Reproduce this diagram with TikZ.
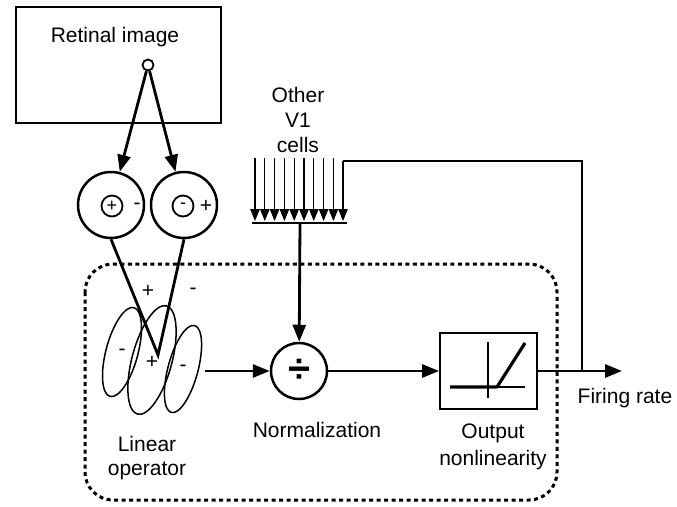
\documentclass[tikz,border=0pt]{standalone}
\usepackage{fontspec}
\setmainfont{Liberation Sans}
\usetikzlibrary{arrows.meta}
\begin{document}
\begin{tikzpicture}[x=1pt,y=-1pt,
  lbl/.style={font=\fontsize{21}{25}\selectfont, inner sep=0pt},
  big/.style={-{Triangle[length=17pt,width=13pt]}, line width=2.8pt},
  small/.style={-{Triangle[length=12pt,width=9.5pt]}, line width=1.1pt},
  ring/.style={circle, draw, line width=2.5pt, inner sep=0pt},
  ell/.style={line width=1.5pt},
  thin/.style={line width=1.8pt}
]
\useasboundingbox (0,0) rectangle (677,506);

% retinal image
\node[draw, line width=2.8pt, minimum width=205pt, minimum height=116pt, inner sep=0pt] (retbox) at (118.5,65) {};
\node[lbl, anchor=base] (rettxt) at (115,42) {Retinal image};
\node[circle, draw, line width=1.8pt, minimum size=11pt, inner sep=0pt] (spot) at (148,65) {};

% LGN-like cells
\node[ring, minimum size=66pt] (onL) at (111,205) {};
\node[ring, minimum size=66pt] (onR) at (184,205) {};
\node[ring, line width=1.8pt, minimum size=21pt, font=\fontsize{18}{18}\selectfont] (cL) at (112,206) {+};
\node[ring, line width=1.8pt, minimum size=21pt, font=\fontsize{18}{18}\selectfont] (cR) at (183,206) {-};
\node[lbl] (mL) at (137,206) {-};
\node[lbl] (pR) at (206,206) {+};

\draw[big] (spot) -- (onL);
\draw[big] (spot) -- (onR);

\coordinate (apex) at (158,355);
\draw[line width=2.8pt, line join=miter] (onL.south) -- (apex) -- (onR.south);

% linear operator ellipses
\draw[ell, rotate around={-15:(122,352)}] (122,352) ellipse [x radius=16, y radius=46];
\draw[ell, rotate around={-15:(152,360)}] (152,360) ellipse [x radius=20, y radius=56];
\draw[ell, rotate around={-15:(183,369)}] (183,369) ellipse [x radius=15, y radius=45];
\node[lbl] (e1) at (122,352) {-};
\node[lbl] (e2) at (152,362) {+};
\node[lbl] (e3) at (183,368) {-};
\node[lbl] (tp) at (148,291) {+};
\node[lbl] (tm) at (193,291) {-};

% normalization
\coordinate (linout) at (205,371);
\node[ring, minimum size=56pt, font=\fontsize{40}{40}\selectfont\bfseries] (norm) at (299,371) {÷};
\draw[big] (linout) -- (norm);

% output nonlinearity
\node[draw, line width=1.8pt, minimum width=97pt, minimum height=76pt, inner sep=0pt] (nl) at (488.5,371) {};
\draw[big] (norm) -- (nl);
\draw[thin] (488,342) -- (488,398);
\draw[thin] (450,387) -- (525,387);
\draw[line width=3.2pt, line join=round] (450,387) -- (497,387) -- (525,343);

\coordinate (fr) at (622,371);
\draw[big] (nl.east) -- (fr);
\node[lbl, anchor=base] (frtxt) at (625,403) {Firing rate};

% other V1 cells
\node[lbl, anchor=base, align=center] (other) at (298,152) {Other\\V1\\cells};
\foreach \i in {0,...,8} \draw[small] ({255+9.8*\i},158) -- ({255+9.8*\i},221);
\coordinate (fbstart) at (343,161);
\draw[small] (fbstart) -- (343,221);
\draw[thin] (252,223) -- (347,223);
\coordinate (barmid) at (300,223);
\draw[big] (barmid) -- (norm);
\coordinate (fbj) at (582,371);
\draw[thin] (fbstart) -| (fbj);

% dotted enclosure
\draw[line width=3pt, dash pattern=on 4pt off 3.5pt, rounded corners=28pt] (85,264) rectangle (557,500);

% labels
\node[lbl, anchor=base, align=center, font=\fontsize{21}{23.5}\selectfont] (linlbl) at (147,475) {Linear\\operator};
\node[lbl, anchor=base] (normlbl) at (317,437) {Normalization};
\node[lbl, anchor=base, align=center, font=\fontsize{21}{27}\selectfont] (nllbl) at (493,465) {Output\\nonlinearity};
\end{tikzpicture}
\end{document}
